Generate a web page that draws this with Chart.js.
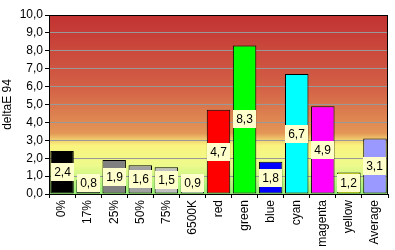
<!DOCTYPE html>
<html>
<head>
<meta charset="utf-8">
<script src="https://cdn.jsdelivr.net/npm/chart.js@4/dist/chart.umd.min.js"></script>
<style>
  html, body { margin: 0; padding: 0; background: #fff; }
  #wrap { width: 395px; height: 250px; }
</style>
</head>
<body>
<div id="wrap"><canvas id="chartDE"></canvas></div>
<script>
/* deltaE 94 per patch */
const categories = ['0%', '17%', '25%', '50%', '75%', '6500K', 'red', 'green', 'blue', 'cyan', 'magenta', 'yellow', 'Average'];
const deltaE     = [2.4, 0.8, 1.9, 1.6, 1.5, 0.9, 4.7, 8.3, 1.8, 6.7, 4.9, 1.2, 3.1];
const barColors  = ['#000000', '#333333', '#808080', '#A0A0A0', '#C0C0C0', '#FFFFFF',
                    '#FF0000', '#00FF00', '#0000FF', '#00FFFF', '#FF00FF', '#FFFF00', '#9999FF'];
const yTicks     = [0, 1, 2, 3, 4, 5, 6, 7, 8, 9, 10];

const FONT = "'Liberation Sans', Arial, sans-serif";
Chart.defaults.font.family = FONT;
Chart.defaults.font.size   = 12;
Chart.defaults.color       = '#000';

const fmt = v => v.toFixed(1).replace('.', ',');

/* ── background gradient in plot area ───────────────────────── */
const bgPlugin = {
    id: 'bgGrad',
    beforeDraw(chart) {
        const { ctx, chartArea: a } = chart;
        const g = ctx.createLinearGradient(0, a.top, 0, a.bottom);
        g.addColorStop(0.00, '#C23232');
        g.addColorStop(0.40, '#D36046');
        g.addColorStop(0.66, '#E39656');
        g.addColorStop(0.70, '#F2D270');
        g.addColorStop(0.73, '#FAF47E');
        g.addColorStop(0.84, '#EEFA8C');
        g.addColorStop(1.00, '#96F078');
        ctx.save();
        ctx.fillStyle = g;
        ctx.fillRect(a.left, a.top, a.right - a.left, a.bottom - a.top);
        ctx.restore();
    },
    afterDraw(chart) {
        const { ctx, chartArea: a } = chart;
        ctx.save();
        ctx.strokeStyle = '#000';
        ctx.lineWidth = 1;
        ctx.strokeRect(Math.round(a.left) + 0.5, Math.round(a.top) + 0.5,
                       Math.round(a.right - a.left) - 1, Math.round(a.bottom - a.top));
        ctx.restore();
    }
};

/* ── value boxes ────────────────────────────────────────────── */
const labelPlugin = {
    id: 'valBoxes',
    afterDatasetsDraw(chart) {
        const { ctx } = chart;
        const meta = chart.getDatasetMeta(0);
        ctx.save();
        ctx.font = '12px ' + FONT;
        ctx.textAlign = 'center';
        ctx.textBaseline = 'middle';
        meta.data.forEach((bar, i) => {
            const txt = fmt(deltaE[i]);
            const w = Math.ceil(ctx.measureText(txt).width) + 6;
            const h = 18;
            let cy = (bar.y + bar.base) / 2;
            if (cy + h / 2 > bar.base - 2) cy = bar.base - 2 - h / 2;
            const x0 = Math.round(bar.x - w / 2), y0 = Math.round(cy - h / 2);
            ctx.fillStyle = '#FFFFCC';
            ctx.fillRect(x0, y0, w, h);
            ctx.fillStyle = '#000';
            ctx.fillText(txt, x0 + w / 2, y0 + h / 2 + 1);
        });
        ctx.restore();
    }
};

new Chart(document.getElementById('chartDE').getContext('2d'), {
    type: 'bar',
    data: {
        labels: categories,
        datasets: [{
            data: deltaE,
            backgroundColor: barColors,
            borderColor: '#000',
            borderWidth: 1,
            borderSkipped: false,
            barPercentage: 0.9,
            categoryPercentage: 1.0,
        }]
    },
    options: {
        responsive: true,
        maintainAspectRatio: false,
        animation: false,
        layout: { padding: { top: 15, right: 7, left: 0, bottom: 0 } },
        plugins: {
            legend: { display: false },
            tooltip: { enabled: false }
        },
        scales: {
            x: {
                offset: true,
                grid: { drawOnChartArea: false, offset: true, tickLength: 4, tickColor: '#000' },
                border: { color: '#000' },
                ticks: { minRotation: 90, maxRotation: 90, padding: 2, color: '#000', font: { size: 12 } },
                afterFit: s => { s.height = 56; }
            },
            y: {
                min: 0, max: 10,
                afterBuildTicks: s => { s.ticks = yTicks.map(v => ({ value: v })); },
                grid: { color: '#999999', tickLength: 4, tickColor: '#000' },
                border: { color: '#000' },
                ticks: { callback: v => fmt(v), padding: 2, color: '#000', font: { size: 12 } },
                title: { display: true, text: 'deltaE 94', color: '#000', font: { size: 12 }, padding: { top: 0, bottom: 0 } },
                afterFit: s => { s.width = 49; }
            }
        }
    },
    plugins: [bgPlugin, labelPlugin]
});
</script>
</body>
</html>
